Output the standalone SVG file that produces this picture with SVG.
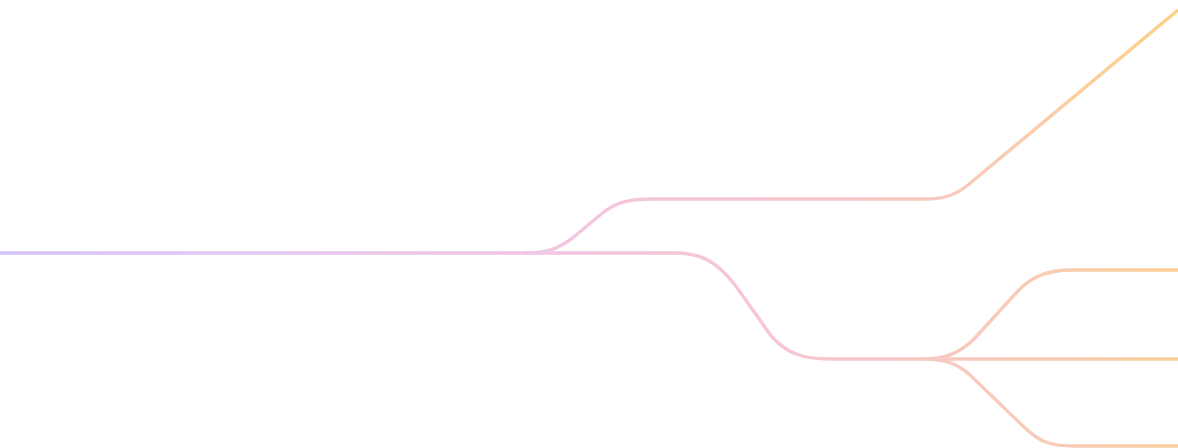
<svg xmlns="http://www.w3.org/2000/svg" width="1178" height="448" viewBox="0 0 1178 448">
  <defs>
    <linearGradient id="g" gradientUnits="userSpaceOnUse" x1="0" y1="300" x2="1178" y2="0">
      <stop offset="0" stop-color="#d6c4fa"/>
      <stop offset="0.42" stop-color="#f1c6e6"/>
      <stop offset="0.62" stop-color="#f6c7d2"/>
      <stop offset="0.82" stop-color="#f9cbb6"/>
      <stop offset="1" stop-color="#fdd084"/>
    </linearGradient>
  </defs>
  <style>
    .c { fill: none; stroke: url(#g); stroke-width: 3.4; stroke-linejoin: round; }
  </style>
  <rect width="1178" height="448" fill="#ffffff"/>
  <g id="connectors">
    <path class="c" d="M0,253 H530"/>
    <path class="c" d="M525,253 C548,253 558,248 570,240 L605,211 C618,202 630,199 652,199 H925 C945,199 955,195 968,185 L1178,10"/>
    <path class="c" d="M525,253 H675 C697,253 714,258 735,285 L772,337 C787,353 802,359 830,359 H930"/>
    <path class="c" d="M925,359 C945,359 960,353 975,338 L1017,292 C1030,278 1045,270 1072,270 H1178"/>
    <path class="c" d="M925,359 H1178"/>
    <path class="c" d="M925,359 C945,359 958,364 970,375 L1025,428 C1040,442 1050,446 1075,446 H1178"/>
  </g>
</svg>
